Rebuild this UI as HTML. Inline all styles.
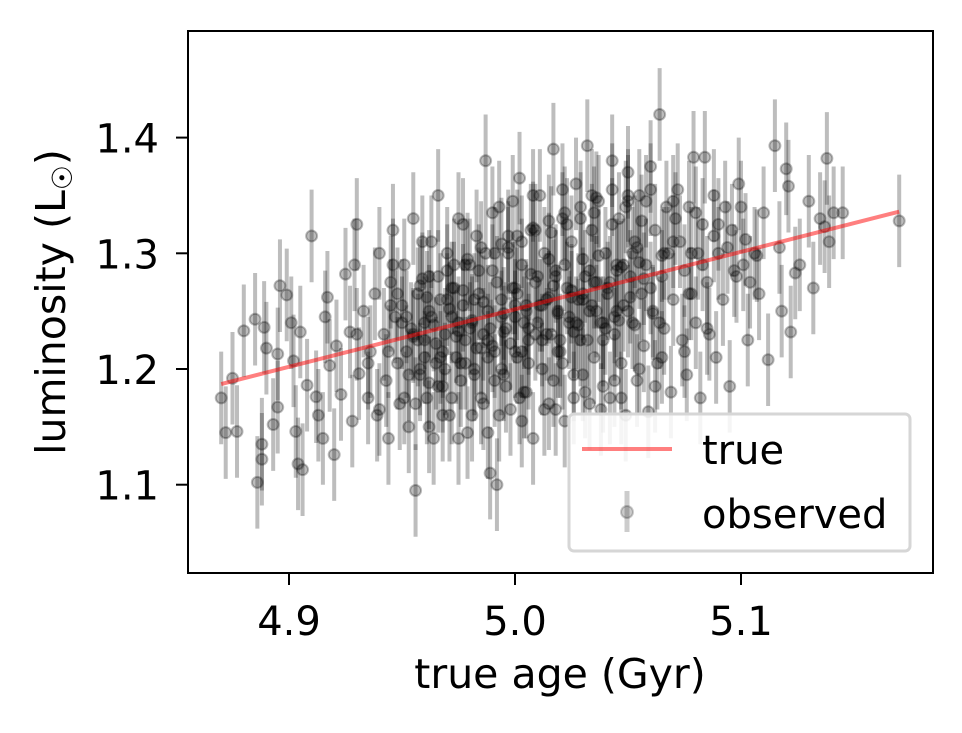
<!DOCTYPE html>
<html><head><meta charset="utf-8">
<style>
html,body{margin:0;padding:0;background:#fff;}
svg{display:block;font-family:"DejaVu Sans","Liberation Sans",sans-serif;}
</style></head>
<body>
<svg id="chart" width="962" height="733" viewBox="0 0 962 733" xmlns="http://www.w3.org/2000/svg">
<g id="points"></g>
<g id="line"></g>
<rect x="188" y="31" width="745" height="542" fill="none" stroke="#000" stroke-width="2"/>
<g id="xticks"></g>
<g id="yticks"></g>
<text x="560" y="688" font-size="41" text-anchor="middle">true age (Gyr)</text>
<text transform="translate(65,302) rotate(-90)" font-size="41" text-anchor="middle">luminosity (L<tspan font-size="28" dy="7">☉</tspan><tspan dy="-7">)</tspan></text>
<g>
<rect x="569" y="414" width="341" height="137" rx="5" fill="#fff" fill-opacity="0.85" stroke="#d6d6d6" stroke-width="3"/>
<line x1="582" y1="449" x2="672" y2="449" stroke="#ff0000" stroke-opacity="0.5" stroke-width="4"/>
<text x="702" y="464" font-size="40">true</text>
<line x1="627" y1="491" x2="627" y2="532" stroke="#000" stroke-opacity="0.2" stroke-width="5"/>
<circle cx="627" cy="512" r="6" fill="#000" fill-opacity="0.2" stroke="#000" stroke-opacity="0.2" stroke-width="2"/>
<text x="702" y="528" font-size="40">observed</text>
</g>
</svg>
<script>
const xTicks=[4.9,5.0,5.1];
const yTicks=[1.1,1.2,1.3,1.4];
const trueAge=[4.87,5.17];
const trueLum=[1.187,1.336];
const yerr=0.04;
const ages=[4.870,4.872,4.875,4.877,4.880,4.885,4.886,4.888,4.888,4.889,4.890,4.893,4.895,4.896,4.895,4.899,4.901,4.902,4.903,4.904,4.906,4.905,4.908,4.910,4.912,4.913,4.915,4.916,4.917,4.918,4.920,4.921,4.923,4.925,4.927,4.928,4.929,4.930,4.931,4.933,4.935,4.936,4.938,4.939,4.940,4.942,4.943,4.944,4.945,4.946,4.947,4.948,4.949,4.950,4.951,4.952,4.953,4.954,4.955,4.956,4.957,4.958,4.959,4.960,4.961,4.962,4.963,4.964,4.965,4.966,4.967,4.968,4.969,4.970,4.971,4.972,4.973,4.974,4.975,4.976,4.977,4.978,4.979,4.980,4.981,4.982,4.983,4.984,4.985,4.986,4.987,4.988,4.989,4.990,4.991,4.992,4.993,4.994,4.995,4.996,4.997,4.998,4.999,5.000,5.001,5.002,5.003,5.004,5.005,5.006,5.007,5.008,5.009,5.010,5.011,5.012,5.013,5.014,5.015,5.016,5.017,5.018,5.019,5.020,5.021,5.022,5.023,5.024,5.025,5.026,5.027,5.028,5.029,5.030,5.031,5.032,5.033,5.034,5.035,5.036,5.037,5.038,5.039,5.040,5.041,5.042,5.043,5.044,5.045,5.046,5.047,5.048,5.049,5.050,5.051,5.052,5.053,5.054,5.055,5.056,5.057,5.058,5.059,5.060,5.061,5.062,5.063,5.064,5.065,5.066,5.067,5.068,5.069,5.070,5.072,5.073,5.074,5.075,5.076,5.077,5.078,5.079,5.080,5.081,5.082,5.083,5.084,5.085,5.086,5.088,5.089,5.090,5.092,5.093,5.095,5.096,5.098,5.099,5.100,5.101,5.103,5.104,5.106,5.108,5.110,5.112,5.115,5.117,5.118,5.120,5.121,5.122,5.124,5.126,5.130,5.132,5.135,5.137,5.138,5.139,5.141,5.145,5.170,
4.955,4.962,4.968,4.975,4.982,4.988,4.994,5.000,5.006,5.012,5.018,5.024,5.030,5.036,5.042,5.048,4.958,4.966,4.972,4.978,4.984,4.991,4.997,5.003,5.009,5.015,5.021,5.027,5.033,5.039,5.045,5.052,4.944,4.950,4.960,4.970,4.980,4.990,5.000,5.010,5.020,5.030,5.040,5.050,5.060,
4.952,4.957,4.961,4.964,4.967,4.971,4.974,4.977,4.981,4.983,4.986,4.989,4.992,4.995,4.998,5.001,5.004,5.007,5.011,5.014,5.017,5.019,5.022,5.025,5.028,5.031,5.034,5.037,5.041,5.044,5.047,5.051,5.054,5.057,
4.953,4.958,4.962,4.966,4.969,4.973,4.976,4.979,4.982,4.985,4.988,4.991,4.994,4.997,5.000,5.003,5.006,5.009,5.012,5.016,5.019,5.023,5.026,5.029,5.032,5.035,5.038,5.043,5.046,5.049,5.053,5.056,5.061,5.066,
4.940,4.946,4.951,4.956,4.963,4.968,4.972,4.977,4.981,4.986,4.990,4.993,4.996,4.999,5.002,5.005,5.008,5.013,5.017,5.021,5.026,5.030,5.034,5.039,5.044,5.050,5.055,5.060,5.065,5.070,5.075,5.080,5.085,5.090,
4.930,4.935,4.945,4.955,4.960,4.965,4.975,4.985,4.995,5.005,5.015,5.025,5.035,5.045,5.055,5.065,5.070,5.078,5.083,5.088,5.094,5.097,5.102,5.107,
4.948,4.959,4.970,4.978,4.987,4.994,5.001,5.008,5.015,5.022,5.029,5.036,5.043,5.050,5.058,5.064,5.071,5.077,4.962,4.975,4.988,5.003,5.018,5.033,5.047,5.062];
const lums=[1.175,1.145,1.192,1.146,1.233,1.243,1.102,1.122,1.135,1.236,1.218,1.152,1.167,1.272,1.213,1.264,1.240,1.207,1.146,1.118,1.113,1.232,1.186,1.315,1.176,1.160,1.140,1.245,1.262,1.203,1.126,1.220,1.178,1.282,1.232,1.155,1.290,1.325,1.196,1.250,1.175,1.215,1.265,1.160,1.300,1.230,1.190,1.140,1.275,1.320,1.245,1.205,1.170,1.255,1.290,1.215,1.150,1.235,1.330,1.095,1.265,1.195,1.310,1.225,1.175,1.280,1.245,1.140,1.205,1.350,1.260,1.185,1.230,1.300,1.160,1.245,1.270,1.210,1.330,1.190,1.255,1.225,1.145,1.290,1.240,1.200,1.315,1.265,1.175,1.230,1.380,1.250,1.110,1.285,1.215,1.100,1.340,1.260,1.195,1.235,1.305,1.165,1.270,1.245,1.210,1.365,1.290,1.180,1.255,1.225,1.320,1.140,1.275,1.240,1.350,1.200,1.300,1.260,1.170,1.230,1.390,1.285,1.250,1.215,1.330,1.155,1.270,1.240,1.310,1.195,1.360,1.260,1.225,1.295,1.180,1.393,1.250,1.320,1.210,1.275,1.345,1.165,1.240,1.300,1.265,1.175,1.380,1.230,1.290,1.330,1.205,1.255,1.160,1.370,1.280,1.240,1.310,1.190,1.350,1.265,1.220,1.290,1.163,1.375,1.250,1.320,1.205,1.420,1.280,1.235,1.340,1.300,1.180,1.260,1.355,1.310,1.225,1.285,1.195,1.340,1.265,1.383,1.240,1.300,1.175,1.325,1.383,1.275,1.230,1.350,1.210,1.300,1.260,1.340,1.185,1.320,1.280,1.360,1.340,1.290,1.225,1.275,1.300,1.265,1.335,1.208,1.393,1.305,1.250,1.373,1.358,1.232,1.283,1.290,1.345,1.270,1.330,1.323,1.382,1.310,1.335,1.335,1.328,
1.230,1.250,1.215,1.240,1.260,1.225,1.245,1.270,1.235,1.255,1.280,1.245,1.265,1.250,1.275,1.290,1.200,1.185,1.270,1.205,1.285,1.190,1.300,1.215,1.230,1.295,1.205,1.240,1.285,1.225,1.250,1.300,1.215,1.240,1.210,1.260,1.235,1.220,1.255,1.280,1.225,1.260,1.235,1.250,1.270,
1.245,1.225,1.262,1.238,1.210,1.252,1.228,1.268,1.242,1.218,1.258,1.235,1.275,1.248,1.222,1.265,1.240,1.282,1.255,1.230,1.272,1.248,1.290,1.262,1.238,1.280,1.255,1.298,1.270,1.245,1.288,1.262,1.305,1.278,
1.195,1.272,1.188,1.280,1.200,1.290,1.205,1.295,1.195,1.305,1.210,1.300,1.200,1.315,1.215,1.310,1.205,1.320,1.225,1.318,1.215,1.325,1.232,1.330,1.225,1.335,1.240,1.325,1.242,1.340,1.238,1.328,1.248,1.300,
1.165,1.290,1.175,1.170,1.310,1.160,1.175,1.325,1.160,1.170,1.335,1.160,1.185,1.345,1.175,1.180,1.350,1.165,1.190,1.355,1.175,1.195,1.350,1.185,1.190,1.345,1.200,1.355,1.210,1.345,1.215,1.335,1.235,1.325,
1.230,1.205,1.255,1.228,1.240,1.222,1.233,1.218,1.232,1.250,1.262,1.268,1.275,1.285,1.292,1.298,1.310,1.300,1.290,1.315,1.305,1.285,1.312,1.298,
1.265,1.278,1.285,1.290,1.300,1.308,1.315,1.322,1.328,1.335,1.340,1.348,1.355,1.350,1.345,1.240,1.330,1.265,1.150,1.140,1.145,1.155,1.165,1.170,1.175,1.185];
const NS='http://www.w3.org/2000/svg';
const X0=188,X1=933,Y0=31,Y1=573;
function xs(v){return 289+(v-4.9)*2260;}
function ys(v){return 369-(v-1.2)*1157;}
const ptsG=document.getElementById('points');
for(let i=0;i<ages.length;i++){
  const x=xs(ages[i]),y=ys(lums[i]);
  const l=document.createElementNS(NS,'line');
  
  
  l.setAttribute('x1',x);l.setAttribute('x2',x);
  l.setAttribute('y1',ys(lums[i]+yerr));l.setAttribute('y2',ys(lums[i]-yerr));
  l.setAttribute('stroke','#000');l.setAttribute('stroke-opacity','0.26');l.setAttribute('stroke-width','4');
  ptsG.appendChild(l);
  const c=document.createElementNS(NS,'circle');
  
  
  c.setAttribute('cx',x);c.setAttribute('cy',y);c.setAttribute('r','5.5');
  c.setAttribute('fill','#000');c.setAttribute('fill-opacity','0.26');
  c.setAttribute('stroke','#000');c.setAttribute('stroke-opacity','0.26');c.setAttribute('stroke-width','2');
  ptsG.appendChild(c);
}
const lg=document.getElementById('line');
const tl=document.createElementNS(NS,'line');


tl.setAttribute('x1',xs(trueAge[0]));tl.setAttribute('y1',ys(trueLum[0]));
tl.setAttribute('x2',xs(trueAge[1]));tl.setAttribute('y2',ys(trueLum[1]));
tl.setAttribute('stroke','#ff0000');tl.setAttribute('stroke-opacity','0.5');tl.setAttribute('stroke-width','4');
lg.appendChild(tl);
const xg=document.getElementById('xticks');
xTicks.forEach(v=>{
  const x=xs(v);
  const t=document.createElementNS(NS,'line');
  
  
  t.setAttribute('x1',x);t.setAttribute('x2',x);t.setAttribute('y1',Y1);t.setAttribute('y2',Y1+12);
  t.setAttribute('stroke','#000');t.setAttribute('stroke-width','2');
  xg.appendChild(t);
  const tx=document.createElementNS(NS,'text');
  
  
  tx.setAttribute('x',x);tx.setAttribute('y',635);tx.setAttribute('font-size','40');tx.setAttribute('text-anchor','middle');
  tx.textContent=v.toFixed(1);
  xg.appendChild(tx);
});
const yg=document.getElementById('yticks');
yTicks.forEach(v=>{
  const y=ys(v);
  const t=document.createElementNS(NS,'line');
  
  
  t.setAttribute('x1',X0-12);t.setAttribute('x2',X0);t.setAttribute('y1',y);t.setAttribute('y2',y);
  t.setAttribute('stroke','#000');t.setAttribute('stroke-width','2');
  yg.appendChild(t);
  const tx=document.createElementNS(NS,'text');
  
  
  tx.setAttribute('x',X0-29);tx.setAttribute('y',y+15);tx.setAttribute('font-size','40');tx.setAttribute('text-anchor','end');
  tx.textContent=v.toFixed(1);
  yg.appendChild(tx);
});
</script>
</body></html>
